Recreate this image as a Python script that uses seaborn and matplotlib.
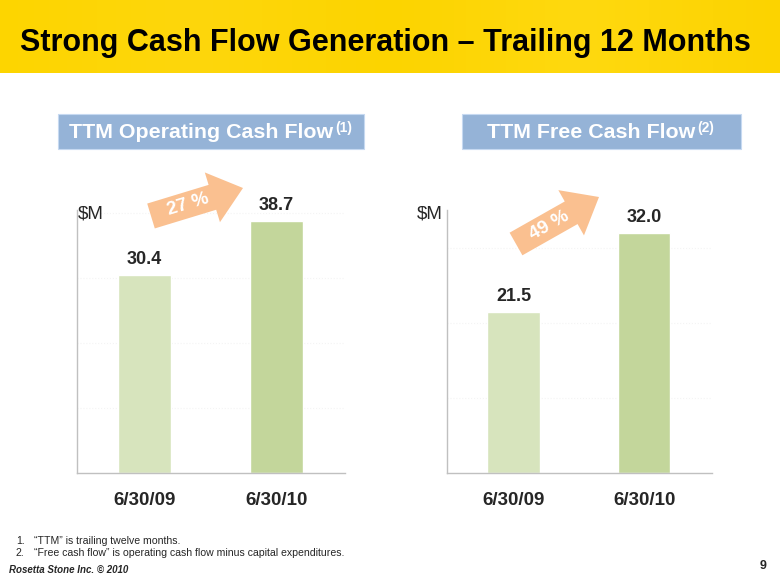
import numpy as np
import matplotlib
matplotlib.use("Agg")
import matplotlib.pyplot as plt
from matplotlib.colors import LinearSegmentedColormap
from matplotlib.patches import Rectangle, FancyArrow
import seaborn as sns

# data
periods = ["6/30/09", "6/30/10"]
op_cash_flow = [30.4, 38.7]
free_cash_flow = [21.5, 32.0]
growth_labels = ["27 %", "49 %"]
panel_titles = ["TTM Operating Cash Flow", "TTM Free Cash Flow"]
panel_notes = ["(1)", "(2)"]
footnotes = [
    "\u201cTTM\u201d is trailing twelve months.",
    "\u201cFree cash flow\u201d is operating cash flow minus capital expenditures.",
]

bar_colors = ["#d7e4bd", "#c3d69b"]
box_color = "#95b3d7"
arrow_color = "#fac090"

sns.set_style("white")
plt.rcParams["font.family"] = ["Liberation Sans", "DejaVu Sans"]

W, H = 780, 585
fig = plt.figure(figsize=(7.8, 5.85), dpi=100)

# overlay in pixel coordinates for the slide decorations (drawn above the panels)
deco = fig.add_axes([0, 0, 1, 1], zorder=3)
deco.axis("off")

# title band
grad = np.linspace(0, 1, 256).reshape(1, -1)
cmap = LinearSegmentedColormap.from_list("band", ["#fdd500", "#fed70c", "#fcd400", "#ffd90f", "#fcd300"])
deco.imshow(grad, extent=(0, W, 73, 0), aspect="auto", cmap=cmap)
deco.set_xlim(0, W)
deco.set_ylim(H, 0)
deco.text(20, 43, "Strong Cash Flow Generation \u2013 Trailing 12 Months",
          fontsize=22, fontweight="bold", color="black", va="center", ha="left")


def panel(rect, values, ymax, box, title, note, width):
    ax = fig.add_axes([rect[0] / W, 1 - rect[3] / H, (rect[2] - rect[0]) / W,
                       (rect[3] - rect[1]) / H], zorder=1)
    ax.patch.set_alpha(0)
    sns.barplot(x=periods, y=values, hue=periods, palette=bar_colors,
                width=width, legend=False, ax=ax, saturation=1, zorder=2)
    ax.set_ylim(0, ymax)
    ax.set_xlim(-0.51, 1.52)
    ax.set_yticks(np.arange(10, ymax, 10))
    ax.set_yticklabels([])
    ax.grid(axis="y", color="#f4f4f4", linestyle=":", linewidth=0.8)
    ax.set_axisbelow(True)
    ax.set_xlabel("")
    ax.set_ylabel("")
    ax.tick_params(axis="both", length=0)
    ax.tick_params(axis="x", pad=14)
    for lab in ax.get_xticklabels():
        lab.set_fontsize(13.5)
        lab.set_fontweight("bold")
    for s in ["top", "right"]:
        ax.spines[s].set_visible(False)
    for s in ["left", "bottom"]:
        ax.spines[s].set_color("#c0c0c0")
        ax.spines[s].set_linewidth(1.0)
    for i, v in enumerate(values):
        ax.annotate(f"{v:.1f}", (i, v), xytext=(0, 5), textcoords="offset points",
                    ha="center", va="bottom", fontsize=13, fontweight="bold")
    # header box
    x0, x1, y0, y1 = box
    deco.add_patch(Rectangle((x0, y0), x1 - x0, y1 - y0, facecolor=box_color,
                             edgecolor="#c6d9f1", lw=0.8))
    t = deco.text((x0 + x1) / 2 - 10, (y0 + y1) / 2 + 1, title, ha="center", va="center",
                  fontsize=15.4, fontweight="bold", color="white")
    deco.annotate(note, xy=(1, 1), xycoords=t, xytext=(1.5, 1.5),
                  textcoords="offset points", ha="left", va="top",
                  fontsize=10, fontweight="bold", color="white")
    return ax


ax1 = panel((77, 210, 345, 473), op_cash_flow, 40.4, (58, 364, 114, 149),
            panel_titles[0], panel_notes[0], 0.405)
ax2 = panel((447, 210, 712, 473), free_cash_flow, 35.1, (462, 741, 114, 149),
            panel_titles[1], panel_notes[1], 0.40)

deco.text(78, 214, "$M", fontsize=13.5, va="center", ha="left")
deco.text(417, 214, "$M", fontsize=13.5, va="center", ha="left")

# growth arrows (tail centre -> tip, in pixels)
arrows = [(151, 216, 243, 188), (516, 244, 599, 197)]
for (x0, y0, x1, y1), lab in zip(arrows, growth_labels):
    dx, dy = x1 - x0, y1 - y0
    arr = FancyArrow(x0, y0, dx, dy, width=26, head_width=52, head_length=32,
                     length_includes_head=True, color=arrow_color, lw=0, zorder=3)
    deco.add_patch(arr)
    ang = np.degrees(np.arctan2(-dy, dx))
    deco.text(x0 + dx * 0.4, y0 + dy * 0.4, lab, rotation=ang, ha="center",
              va="center", fontsize=13.5, fontweight="bold", color="white",
              rotation_mode="anchor", zorder=4)

for i, note in enumerate(footnotes):
    deco.text(16, 541 + 12 * i, f"{i + 1}.", fontsize=7.6, va="center", ha="left")
    deco.text(34, 541 + 12 * i, note, fontsize=7.6, va="center", ha="left")
deco.text(9, 570, "Rosetta Stone Inc. \u00a9 2010", fontsize=7,
          fontweight="bold", fontstyle="italic", va="center", ha="left")
deco.text(766, 566, "9", fontsize=9, fontweight="bold", va="center", ha="right")

fig.savefig("out.png", dpi=100)
